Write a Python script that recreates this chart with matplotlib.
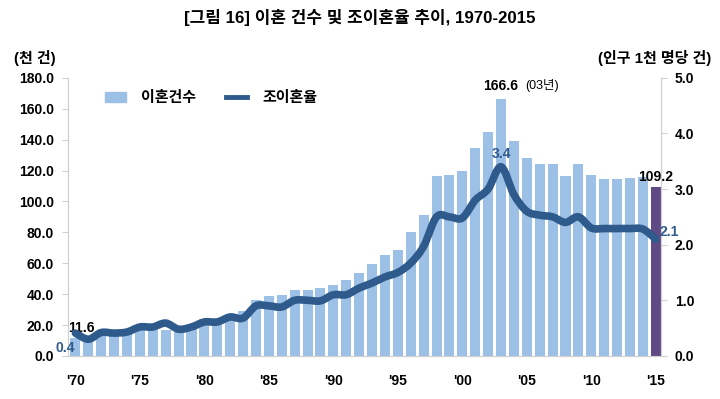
import matplotlib
matplotlib.use('Agg')
import matplotlib.pyplot as plt
from matplotlib.path import Path
from matplotlib.patches import PathPatch
from matplotlib.lines import Line2D
from matplotlib.patches import Patch
import numpy as np

plt.rcParams['font.family'] = ['Liberation Sans', 'Noto Sans CJK KR', 'DejaVu Sans']

years = list(range(1970, 2016))
# divorces (thousand)
divorces = [11.6, 11.4, 13.0, 14.3, 14.7, 16.5, 16.8, 16.7, 15.7, 17.1,
            23.7, 24.5, 27.3, 29.2, 36.0, 38.8, 39.6, 42.4, 42.8, 44.2,
            45.7, 49.2, 53.5, 59.3, 65.0, 68.3, 79.9, 91.2, 116.3, 117.4,
            119.5, 134.6, 144.9, 166.6, 138.9, 128.0, 124.5, 124.1, 116.5, 124.0,
            116.9, 114.3, 114.3, 115.3, 115.5, 109.2]
# crude divorce rate (per 1,000 population)
rate = [0.41, 0.30, 0.42, 0.41, 0.43, 0.52, 0.52, 0.59, 0.48, 0.52,
        0.61, 0.61, 0.70, 0.68, 0.90, 0.90, 0.88, 1.00, 1.00, 0.99,
        1.10, 1.10, 1.22, 1.31, 1.42, 1.50, 1.67, 1.97, 2.50, 2.50,
        2.48, 2.80, 3.00, 3.40, 2.90, 2.60, 2.53, 2.50, 2.40, 2.50,
        2.30, 2.29, 2.29, 2.29, 2.28, 2.10]
tick_years = [1970, 1975, 1980, 1985, 1990, 1995, 2000, 2005, 2010, 2015]
tick_labels = ["'70", "'75", "'80", "'85", "'90", "'95", "'00", "'05", "'10", "'15"]

bar_color = '#9dc0e6'
last_color = '#5f4a86'
line_color = '#2e5b8c'
grey = '#d0d0d0'

fig = plt.figure(figsize=(7.2, 3.99), dpi=100)
ax = fig.add_axes([0.094, 0.108, 0.824, 0.697])
ax2 = ax.twinx()

colors = [bar_color] * (len(years) - 1) + [last_color]
ax.bar(years, divorces, width=0.78, color=colors, zorder=2)

# smoothed line (Catmull-Rom -> cubic bezier, like Excel smoothing)
x = np.array(years, dtype=float)
y = np.array(rate)
verts = [(x[0], y[0])]
codes = [Path.MOVETO]
for i in range(len(x) - 1):
    p0 = (x[max(i - 1, 0)], y[max(i - 1, 0)])
    p1 = (x[i], y[i])
    p2 = (x[i + 1], y[i + 1])
    p3 = (x[min(i + 2, len(x) - 1)], y[min(i + 2, len(x) - 1)])
    c1 = (p1[0] + (p2[0] - p0[0]) / 6, p1[1] + (p2[1] - p0[1]) / 6)
    c2 = (p2[0] - (p3[0] - p1[0]) / 6, p2[1] - (p3[1] - p1[1]) / 6)
    verts += [c1, c2, p2]
    codes += [Path.CURVE4] * 3
ax2.add_patch(PathPatch(Path(verts, codes), fill=False, edgecolor=line_color,
                        lw=5.5, capstyle='round', joinstyle='round', zorder=3))

ax.set_xlim(1969.4, 2015.4)
ax.set_ylim(0, 180)
ax2.set_ylim(0, 5)
ax.set_yticks(np.arange(0, 181, 20))
ax.set_yticklabels([f'{v:.1f}' for v in np.arange(0, 181, 20)])
ax2.set_yticks(np.arange(0, 5.1, 1))
ax2.set_yticklabels([f'{v:.1f}' for v in np.arange(0, 5.1, 1)])
ax.set_xticks(tick_years)
ax.set_xticklabels(tick_labels)

for a in (ax, ax2):
    a.spines['top'].set_visible(False)
    for s in ('left', 'right', 'bottom'):
        a.spines[s].set_color(grey)
ax.tick_params(axis='y', length=4, color=grey, labelsize=10, pad=6)
ax2.tick_params(axis='y', length=4, color=grey, labelsize=10, pad=6)
ax.tick_params(axis='x', length=0, labelsize=10, pad=13)
for lab in ax.get_yticklabels() + ax2.get_yticklabels() + ax.get_xticklabels():
    lab.set_fontweight('bold')

# annotations
ax.text(1970.5, 13.5, '11.6', fontsize=10, fontweight='bold', ha='center', va='bottom', zorder=5)
ax2.text(1970.0, 0.15, '0.4', fontsize=10, fontweight='bold', color=line_color, ha='right', va='center', zorder=5)
ax.text(2003, 170, '166.6', fontsize=10, fontweight='bold', ha='center', va='bottom')
ax.text(2004.9, 170.5, '(03년)', fontsize=9, ha='left', va='bottom')
ax2.text(2003, 3.5, '3.4', fontsize=10, fontweight='bold', color=line_color, ha='center', va='bottom', zorder=5)
ax.text(2015, 111, '109.2', fontsize=10, fontweight='bold', ha='center', va='bottom')
ax2.text(2015.3, 2.22, '2.1', fontsize=10, fontweight='bold', color=line_color, ha='left', va='center', zorder=5)

fig.text(0.5, 0.955, '[그림 16] 이혼 건수 및 조이혼율 추이, 1970-2015', fontsize=12.2,
         fontweight='bold', ha='center', va='center')
fig.text(0.02, 0.855, '(천 건)', fontsize=10.8, fontweight='bold', ha='left', va='center')
fig.text(0.988, 0.855, '(인구 1천 명당 건)', fontsize=10.8, fontweight='bold', ha='right', va='center')

handles = [Patch(color=bar_color), Line2D([0], [0], color=line_color, lw=3.5)]
ax.legend(handles, ['이혼건수', '조이혼율'], loc='upper left', bbox_to_anchor=(0.04, 1.0),
          ncol=2, frameon=False, handlelength=1.4, handleheight=0.7, handletextpad=1.0,
          columnspacing=2.0, prop={'weight': 'bold', 'size': 10.8})

fig.savefig('out.png', dpi=100)
